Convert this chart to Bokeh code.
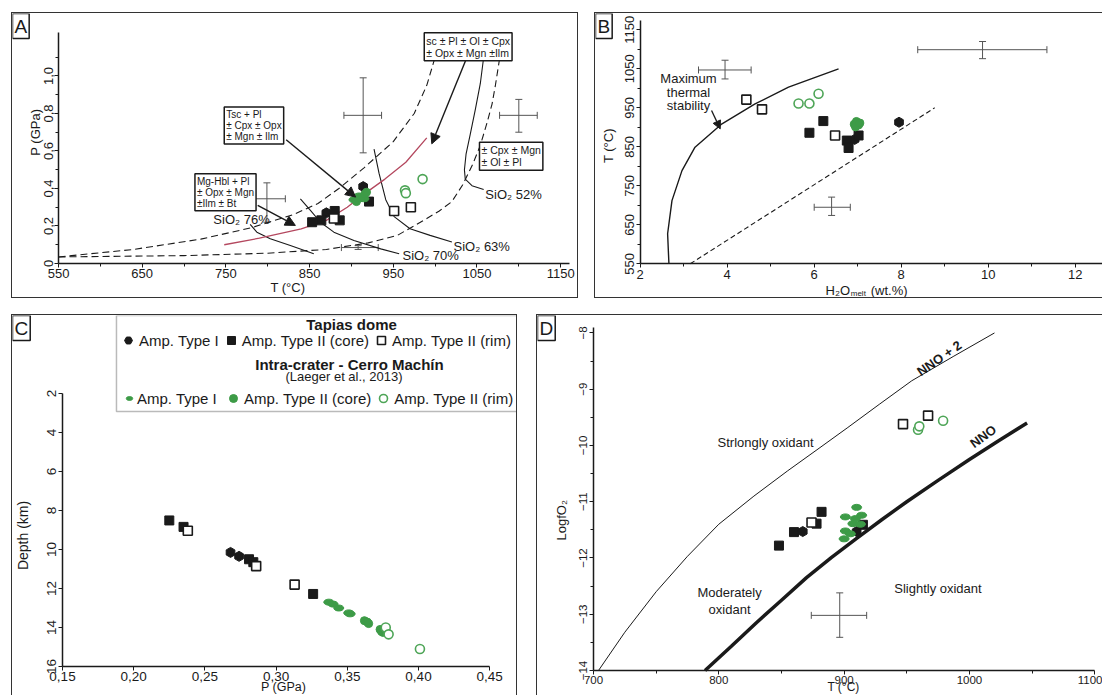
import numpy as np
from bokeh.plotting import figure
from bokeh.layouts import row, column
from bokeh.models import (Range1d, FixedTicker, CustomJSTickFormatter, Label, Arrow, NormalHead,
                          Whisker, TeeHead, ColumnDataSource, Legend, LegendItem, BoxAnnotation)
from bokeh.embed import file_html
from bokeh.resources import INLINE

FONT = "Liberation Sans"
INK = "#1a1a1a"
GREEN = "#3d9b47"
GREEN_OPEN = "#4ea557"
RED = "#b4485f"
GREY = "#555555"

# ---------------- Panel A : P (GPa) vs T (°C) ----------------
a_t1_T = [870, 914]; a_t1_P = [0.27, 0.41]
a_core_T = [853, 864, 880, 886, 921]; a_core_P = [0.22, 0.23, 0.28, 0.23, 0.33]
a_rim_T = [879, 951, 971]; a_rim_P = [0.24, 0.28, 0.30]
a_gI_T = [903, 909, 915]; a_gI_P = [0.34, 0.36, 0.345]
a_gcore_T = [906, 911, 916, 918]; a_gcore_P = [0.33, 0.35, 0.37, 0.38]
a_grim_T = [964, 965, 985]; a_grim_P = [0.39, 0.375, 0.45]
a_d1_T = [550, 640, 720, 780, 830, 860, 885, 915, 950, 975, 990, 1000]
a_d1_P = [0.035, 0.075, 0.13, 0.19, 0.26, 0.32, 0.40, 0.51, 0.65, 0.80, 0.95, 1.10]
a_d2_T = [550, 700, 800, 870, 920, 955, 990, 1005, 1020, 1033, 1045, 1054, 1062, 1068, 1072, 1078]
a_d2_P = [0.035, 0.042, 0.055, 0.075, 0.11, 0.15, 0.24, 0.28, 0.33, 0.42, 0.53, 0.63, 0.75, 0.85, 0.95, 1.12]
a_red_T = [748, 790, 840, 870, 895, 915, 940, 965, 990]
a_red_P = [0.10, 0.135, 0.185, 0.23, 0.30, 0.37, 0.45, 0.54, 0.67]
si52_T = [1058, 1054, 1048, 1042, 1037, 1035, 1036, 1044, 1058]
si52_P = [1.10, 0.96, 0.82, 0.69, 0.585, 0.50, 0.45, 0.415, 0.395]
si63_T = [927, 933, 941, 951, 970, 994, 1020]
si63_P = [0.61, 0.48, 0.34, 0.25, 0.185, 0.15, 0.115]
si70_T = [839, 851, 863, 879, 903, 935, 957]
si70_P = [0.345, 0.283, 0.22, 0.167, 0.123, 0.078, 0.052]
si76_T = [779, 787, 803, 827, 855]
si76_P = [0.208, 0.167, 0.132, 0.096, 0.052]
a_err_T = [914, 1100, 799, 908]; a_err_P = [0.79, 0.79, 0.345, 0.085]
a_err_Tlo = [891, 1077, 775, 888]; a_err_Thi = [936, 1122, 821, 932]
a_err_Plo = [0.59, 0.70, 0.22, 0.075]; a_err_Phi = [0.99, 0.875, 0.43, 0.095]
a_arr_x0 = [788, 822, 1038]; a_arr_y0 = [0.31, 0.66, 1.10]
a_arr_x1 = [833, 905, 996]; a_arr_y1 = [0.203, 0.354, 0.638]
a_xticks = [550, 650, 750, 850, 950, 1050, 1150]
a_yticks = [0, 0.2, 0.4, 0.6, 0.8, 1.0]

# ---------------- Panel B : T (°C) vs H2O melt ----------------
b_t1_H = [6.93, 7.95]; b_t1_T = [869, 913]
b_core_H = [5.89, 6.21, 6.75, 6.79, 7.02]; b_core_T = [886, 916, 866, 847, 879]
b_rim_H = [4.44, 4.80, 6.48]; b_rim_T = [971, 946, 879]
b_gcore_H = [6.92, 6.97, 7.02, 6.95, 7.05]; b_gcore_T = [908, 915, 906, 901, 911]
b_grim_H = [5.64, 5.89, 6.10]; b_grim_T = [961, 961, 986]
b_max_H = [2.66, 2.63, 2.73, 2.96, 3.26, 3.88, 4.64, 5.41, 6.56]
b_max_T = [550, 627, 712, 789, 849, 909, 960, 1003, 1050]
b_dash_H = [3.15, 8.77]; b_dash_T = [550, 950]
b_err_H = [3.95, 9.87, 6.40]; b_err_T = [1047, 1099, 695]
b_err_Hlo = [3.34, 8.38, 6.00]; b_err_Hhi = [4.55, 11.35, 6.83]
b_err_Tlo = [1024, 1076, 674]; b_err_Thi = [1072, 1120, 721]
b_xticks = [2, 4, 6, 8, 10, 12]
b_yticks = [550, 650, 750, 850, 950, 1050, 1150]

# ---------------- Panel C : Depth (km) vs P (GPa) ----------------
c_t1_P = [0.268, 0.274]; c_t1_D = [10.15, 10.35]
c_core_P = [0.225, 0.235, 0.281, 0.284, 0.326]; c_core_D = [8.51, 8.84, 10.5, 10.65, 12.28]
c_rim_P = [0.238, 0.286, 0.313]; c_rim_D = [9.04, 10.85, 11.8]
c_gI_P = [0.337, 0.340, 0.344, 0.351, 0.352]; c_gI_D = [12.7, 12.8, 13.0, 13.25, 13.3]
c_gcore_P = [0.362, 0.364, 0.365, 0.373, 0.374, 0.375]; c_gcore_D = [13.65, 13.72, 13.8, 14.1, 14.2, 14.25]
c_grim_P = [0.377, 0.379, 0.401]; c_grim_D = [14.0, 14.35, 15.1]
c_xticks = [0.15, 0.20, 0.25, 0.30, 0.35, 0.40, 0.45]
c_yticks = [2, 4, 6, 8, 10, 12, 14, 16]

# ---------------- Panel D : LogfO2 vs T (°C) ----------------
d_t1_T = [867, 910]; d_t1_f = [-11.53, -11.53]
d_core_T = [848, 860, 878, 882, 915]; d_core_f = [-11.78, -11.54, -11.39, -11.18, -11.41]
d_rim_T = [874, 947, 967]; d_rim_f = [-11.37, -9.62, -9.47]
d_gI_T = [901, 909, 914, 907, 913, 901, 905, 900, 910]
d_gI_f = [-11.27, -11.30, -11.24, -11.39, -11.40, -11.52, -11.57, -11.66, -11.10]
d_grim_T = [959, 960, 979]; d_grim_f = [-9.72, -9.66, -9.56]
d_nno_T = [789, 810, 830, 850, 870, 890, 910, 930, 950, 975, 1000, 1023, 1046]
d_nno_f = [-14.0, -13.57, -13.15, -12.75, -12.35, -11.99, -11.65, -11.32, -11.0, -10.62, -10.25, -9.92, -9.6]
d_nno2_T = [704, 725, 750, 775, 800, 828, 855, 880, 903, 928, 954, 987, 1020]
d_nno2_f = [-14.0, -13.32, -12.6, -11.97, -11.4, -10.9, -10.45, -10.05, -9.68, -9.27, -8.85, -8.42, -8.0]
d_err_T = [896.5]; d_err_f = [-13.02]
d_err_Tlo = [873.8]; d_err_Thi = [918]; d_err_flo = [-13.41]; d_err_fhi = [-12.62]
d_xticks = [700, 800, 900, 1000, 1100]
d_yticks = [-14, -13, -12, -11, -10, -9, -8]


def base_fig(w, h, xr, yr, styles):
    # the plotting frame fills the whole panel; axes sit at fixed data locations inside it
    p = figure(width=w, height=h, x_range=Range1d(*xr), y_range=Range1d(*yr),
               output_backend="svg", toolbar_location=None,
               min_border_left=0, min_border_right=0, min_border_top=0,
               min_border_bottom=0, styles=styles)
    p.xgrid.visible = False
    p.ygrid.visible = False
    p.outline_line_color = None
    return p


def style_axes(p, fs, x_at, y_at, xb, yb, xstand=2):
    p.xaxis.fixed_location = x_at
    p.yaxis.fixed_location = y_at
    p.xaxis.bounds = xb
    p.yaxis.bounds = yb
    for ax in p.axis:
        ax.axis_line_width = 1.5
        ax.axis_line_color = INK
        ax.major_tick_in = 0
        ax.major_tick_out = 4
        ax.minor_tick_in = 0
        ax.minor_tick_out = 3
        ax.major_tick_line_color = INK
        ax.minor_tick_line_color = INK
        ax.major_label_text_font = FONT
        ax.major_label_text_font_size = fs
        ax.major_label_text_color = INK
        ax.major_label_standoff = 2
    p.xaxis.major_label_standoff = xstand
    p.yaxis.major_label_orientation = "vertical"


def text(p, x, y, t, fs="13px", anchor="center_left", bold=False, angle=0.0, align="left", lh=1.1):
    p.add_layout(Label(x=x, y=y, text=t, anchor=anchor, text_font=FONT, text_font_size=fs,
                       text_color=INK, text_font_style="bold" if bold else "normal",
                       angle=angle, text_align=align, text_line_height=lh))


def boxed(p, x, y, t, fs="10px"):
    p.add_layout(Label(x=x, y=y, text=t, anchor="top_left", text_font=FONT, text_font_size=fs,
                       text_color=INK, text_line_height=1.0, border_line_color=INK,
                       border_line_width=1.5, background_fill_color="white", padding=2))


def letter(p, t, x, y):
    p.add_layout(Label(x=x, y=y, text=t, anchor="top_left", text_font=FONT, text_font_size="19px",
                       text_color=INK, border_line_color=INK, border_line_width=1.5,
                       background_fill_color="white", padding=2))


def crosses(p, x, y, xlo, xhi, ylo, yhi):
    src = ColumnDataSource(dict(x=x, y=y, xlo=xlo, xhi=xhi, ylo=ylo, yhi=yhi))
    for base, lo, hi, dim in (("y", "xlo", "xhi", "width"), ("x", "ylo", "yhi", "height")):
        p.add_layout(Whisker(source=src, base=base, lower=lo, upper=hi, dimension=dim,
                             line_color=GREY, line_width=1,
                             lower_head=TeeHead(size=7, line_color=GREY, line_width=1),
                             upper_head=TeeHead(size=7, line_color=GREY, line_width=1)))


def markers(p, t1, core, rim, gI, gcore, grim):
    r = {}
    r["t1"] = p.scatter(*t1, marker="hex", size=10, angle=np.pi / 2, fill_color=INK, line_color=INK)
    r["core"] = p.scatter(*core, marker="square", size=9, fill_color=INK, line_color=INK)
    r["rim"] = p.scatter(*rim, marker="square", size=9, fill_color="white", line_color=INK, line_width=1.6)
    if gI is not None:
        r["gI"] = p.ellipse(x=gI[0], y=gI[1], width=10, height=6, width_units="screen",
                            height_units="screen", fill_color=GREEN, line_color=GREEN)
    if gcore is not None:
        r["gcore"] = p.scatter(*gcore, marker="circle", size=8, fill_color=GREEN, line_color=GREEN)
    r["grim"] = p.scatter(*grim, marker="circle", size=9, fill_color="white", line_color=GREEN_OPEN, line_width=1.6)
    return r


# ======================= Panel A =======================
pA = base_fig(567, 286, (495.0, 1172.5), (-0.192, 1.333), {"border": "1px solid #333"})
pA.xaxis.ticker = FixedTicker(ticks=a_xticks, minor_ticks=[600, 700, 800, 900, 1000, 1100])
pA.yaxis.ticker = FixedTicker(ticks=a_yticks, minor_ticks=[0.1, 0.3, 0.5, 0.7, 0.9, 1.1])
pA.yaxis.formatter = CustomJSTickFormatter(code="return tick == 0 ? '0' : tick.toFixed(1).replace('.', ',');")
style_axes(pA, "13px", 0, 550, (550, 1160), (0, 1.23))
pA.line(a_d1_T, a_d1_P, line_color=INK, line_dash="7 4", line_width=1.1)
pA.line(a_d2_T, a_d2_P, line_color=INK, line_dash="7 4", line_width=1.1)
for xs, ys in ((si52_T, si52_P), (si63_T, si63_P), (si70_T, si70_P), (si76_T, si76_P)):
    pA.line(xs, ys, line_color=INK, line_width=1.1)
pA.line(a_red_T, a_red_P, line_color=RED, line_width=1.3)
crosses(pA, a_err_T, a_err_P, a_err_Tlo, a_err_Thi, a_err_Plo, a_err_Phi)
markers(pA, (a_t1_T, a_t1_P), (a_core_T, a_core_P), (a_rim_T, a_rim_P),
        (a_gI_T, a_gI_P), (a_gcore_T, a_gcore_P), (a_grim_T, a_grim_P))
arrA = ColumnDataSource(dict(x0=a_arr_x0, y0=a_arr_y0, x1=a_arr_x1, y1=a_arr_y1))
pA.add_layout(Arrow(source=arrA, x_start="x0", y_start="y0", x_end="x1", y_end="y1",
                    line_color=INK, line_width=1.4,
                    end=NormalHead(size=10, fill_color=INK, line_color=INK)))
boxed(pA, 713, 0.478, "Mg-Hbl + Pl\n± Opx ± Mgn\n±Ilm ± Bt")
boxed(pA, 748, 0.834, "Tsc + Pl\n± Cpx ± Opx\n± Mgn ± Ilm")
boxed(pA, 987, 1.23, "sc ± Pl ± Ol ± Cpx\n± Opx ± Mgn ±Ilm", fs="10.5px")
boxed(pA, 1053, 0.647, "± Cpx ± Mgn\n± Ol ± Pl", fs="10.5px")
text(pA, 735, 0.235, "SiO₂ 76%")
text(pA, 961, 0.045, "SiO₂ 70%")
text(pA, 1022, 0.09, "SiO₂ 63%")
text(pA, 1060, 0.37, "SiO₂ 52%")
text(pA, 824, -0.128, "T (°C)", anchor="center")
text(pA, 522.5, 0.70, "P (GPa)", anchor="center", angle=np.pi / 2)
letter(pA, "A", 495.0, 1.333)

# ======================= Panel B =======================
pB = base_fig(508, 286, (0.972, 12.651), (458.5, 1191.8),
              {"border": "1px solid #333", "border-right": "none"})
pB.xaxis.ticker = FixedTicker(ticks=b_xticks, minor_ticks=[3, 5, 7, 9, 11])
pB.yaxis.ticker = FixedTicker(ticks=b_yticks, minor_ticks=[600, 700, 800, 900, 1000, 1100])
style_axes(pB, "13px", 550, 2, (2, 12.651), (550, 1175))
pB.line(b_max_H, b_max_T, line_color=INK, line_width=1.4)
pB.line(b_dash_H, b_dash_T, line_color=INK, line_width=1.1, line_dash="5 3")
crosses(pB, b_err_H, b_err_T, b_err_Hlo, b_err_Hhi, b_err_Tlo, b_err_Thi)
markers(pB, (b_t1_H, b_t1_T), (b_core_H, b_core_T), (b_rim_H, b_rim_T),
        None, (b_gcore_H, b_gcore_T), (b_grim_H, b_grim_T))
text(pB, 3.11, 990, "Maximum\nthermal\nstability", anchor="center", align="center", lh=0.9)
pB.add_layout(Arrow(x_start=3.64, y_start=943, x_end=3.84, y_end=896, line_color=INK, line_width=1.3,
                    end=NormalHead(size=8, fill_color=INK, line_color=INK)))
text(pB, 6.26, 481.5, "H₂O")
text(pB, 6.84, 473.5, "melt", fs="8px")
text(pB, 7.30, 481.5, "(wt.%)")
text(pB, 1.271, 853, "T (°C)", anchor="center", angle=np.pi / 2)
letter(pB, "B", 0.972, 1191.8)

# ======================= Panel C =======================
pC = base_fig(506, 381, (0.11489, 0.47022), (17.538, -2.0),
              {"border": "1px solid #333", "border-bottom": "none"})
pC.xaxis.ticker = FixedTicker(ticks=c_xticks)
pC.yaxis.ticker = FixedTicker(ticks=c_yticks)
pC.xaxis.formatter = CustomJSTickFormatter(code="return tick.toFixed(2).replace('.', ',');")
style_axes(pC, "13.5px", 16, 0.15, (0.15, 0.45), (2, 16), xstand=1)
rC = markers(pC, (c_t1_P, c_t1_D), (c_core_P, c_core_D), (c_rim_P, c_rim_D),
             (c_gI_P, c_gI_D), (c_gcore_P, c_gcore_D), (c_grim_P, c_grim_D))
pC.add_layout(BoxAnnotation(left=0.1879, right=0.4702, top=-2.0, bottom=2.92, fill_color="white",
                            fill_alpha=1.0, line_color=INK, line_width=1.5))
leg_kw = dict(orientation="horizontal", label_text_font=FONT, label_text_font_size="15px",
              label_text_color=INK, label_height=18, label_standoff=1, spacing=2, padding=0,
              margin=0, border_line_color=None, background_fill_alpha=0)
pC.add_layout(Legend(items=[LegendItem(label="Amp. Type I", renderers=[rC["t1"]]),
                            LegendItem(label="Amp. Type II (core)", renderers=[rC["core"]]),
                            LegendItem(label="Amp. Type II (rim)", renderers=[rC["rim"]])],
                     location=(106, 346), glyph_width=20, glyph_height=20, **leg_kw))
pC.add_layout(Legend(items=[LegendItem(label="Amp. Type I", renderers=[rC["gI"]])],
                     location=(110, 289), glyph_width=14, glyph_height=8, **leg_kw))
pC.add_layout(Legend(items=[LegendItem(label="Amp. Type II (core)", renderers=[rC["gcore"]]),
                            LegendItem(label="Amp. Type II (rim)", renderers=[rC["grim"]])],
                     location=(211, 288), glyph_width=20, glyph_height=20, **leg_kw))
text(pC, 0.353, -1.55, "Tapias dome", fs="15px", anchor="center", bold=True)
text(pC, 0.3515, 0.51, "Intra-crater - Cerro Machín", fs="15px", anchor="center", bold=True)
text(pC, 0.3477, 1.14, "(Laeger et al., 2013)", fs="13px", anchor="center")
text(pC, 0.3052, 17.05, "P (GPa)", fs="12.5px", anchor="center")
text(pC, 0.1226, 9.28, "Depth (km)", fs="14px", anchor="center", angle=np.pi / 2)
letter(pC, "C", 0.11489, -2.0)

# ======================= Panel D =======================
pD = base_fig(566, 381, (655.31, 1107), (-14.462, -7.69),
              {"border": "1px solid #333", "border-bottom": "none", "border-right": "none"})
pD.xaxis.ticker = FixedTicker(ticks=d_xticks, minor_ticks=[750, 850, 950, 1050])
pD.yaxis.ticker = FixedTicker(ticks=d_yticks, minor_ticks=[-13.5, -12.5, -11.5, -10.5, -9.5, -8.5])
style_axes(pD, "11.5px", -14, 700, (700, 1100), (-14, -7.9), xstand=1)
pD.line(d_nno2_T, d_nno2_f, line_color=INK, line_width=1)
pD.line(d_nno_T, d_nno_f, line_color=INK, line_width=3.5)
crosses(pD, d_err_T, d_err_f, d_err_Tlo, d_err_Thi, d_err_flo, d_err_fhi)
markers(pD, (d_t1_T, d_t1_f), (d_core_T, d_core_f), (d_rim_T, d_rim_f),
        (d_gI_T, d_gI_f), None, (d_grim_T, d_grim_f))
text(pD, 799, -9.95, "Strlongly oxidant")
text(pD, 808.6, -12.77, "Moderately\noxidant", anchor="center", align="center", lh=1.15)
text(pD, 940, -12.55, "Slightly oxidant")
text(pD, 976, -8.45, "NNO + 2", anchor="center", bold=True, angle=0.61)
text(pD, 1011, -9.84, "NNO", anchor="center", bold=True, angle=0.63)
text(pD, 899.5, -14.30, "T (°C)", fs="12px", anchor="center")
text(pD, 674.5, -11.33, "LogfO₂", fs="13px", anchor="center", angle=np.pi / 2)
letter(pD, "D", 655.31, -7.69)

layout = column(row(pA, pB, spacing=16), row(pC, pD, spacing=19), spacing=16, margin=(12, 0, 0, 11))

open("out.html", "w").write(file_html(layout, INLINE))
